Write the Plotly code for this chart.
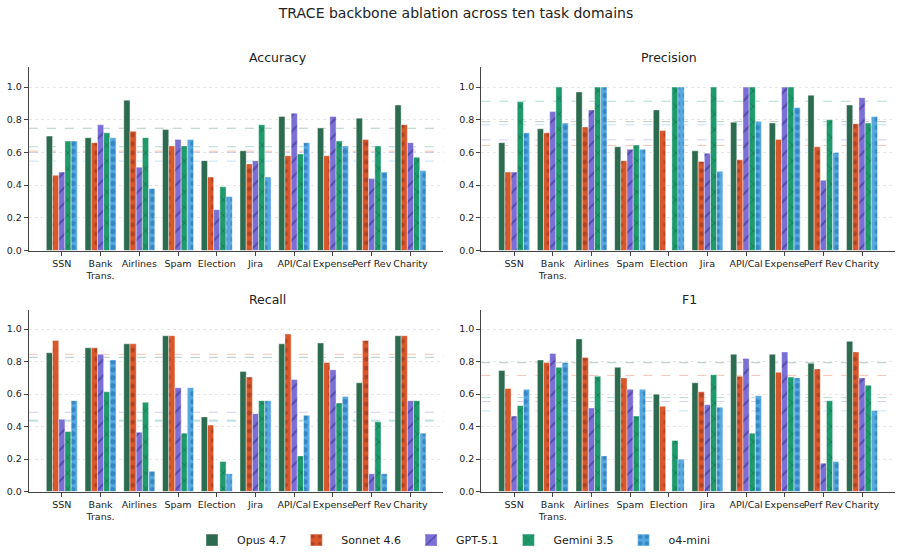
import plotly.graph_objects as go
from plotly.subplots import make_subplots

categories = ["SSN", "Bank<br>Trans.", "Airlines", "Spam", "Election", "Jira",
              "API/Cal", "Expense", "Perf Rev", "Charity"]
models = ["Opus 4.7", "Sonnet 4.6", "GPT-5.1", "Gemini 3.5", "o4-mini"]

accuracy = {
    "Opus 4.7":   [0.70, 0.69, 0.92, 0.74, 0.55, 0.61, 0.82, 0.75, 0.81, 0.89],
    "Sonnet 4.6": [0.46, 0.66, 0.73, 0.64, 0.45, 0.53, 0.58, 0.58, 0.68, 0.77],
    "GPT-5.1":    [0.48, 0.77, 0.51, 0.68, 0.25, 0.55, 0.84, 0.82, 0.44, 0.66],
    "Gemini 3.5": [0.67, 0.72, 0.69, 0.64, 0.39, 0.77, 0.59, 0.67, 0.64, 0.57],
    "o4-mini":    [0.67, 0.69, 0.38, 0.68, 0.33, 0.45, 0.66, 0.64, 0.48, 0.49],
}
precision = {
    "Opus 4.7":   [0.66, 0.745, 0.97, 0.635, 0.86, 0.61, 0.785, 0.78, 0.95, 0.89],
    "Sonnet 4.6": [0.48, 0.72, 0.755, 0.55, 0.735, 0.545, 0.555, 0.68, 0.635, 0.775],
    "GPT-5.1":    [0.48, 0.85, 0.86, 0.62, 0.0, 0.595, 1.0, 1.0, 0.43, 0.935],
    "Gemini 3.5": [0.91, 1.0, 1.0, 0.645, 1.0, 1.0, 1.0, 1.0, 0.80, 0.78],
    "o4-mini":    [0.72, 0.78, 1.0, 0.62, 1.0, 0.485, 0.79, 0.875, 0.60, 0.82],
}
recall = {
    "Opus 4.7":   [0.855, 0.885, 0.91, 0.96, 0.46, 0.74, 0.91, 0.915, 0.67, 0.96],
    "Sonnet 4.6": [0.93, 0.885, 0.91, 0.96, 0.41, 0.705, 0.97, 0.795, 0.93, 0.96],
    "GPT-5.1":    [0.445, 0.845, 0.365, 0.64, 0.0, 0.48, 0.69, 0.75, 0.11, 0.56],
    "Gemini 3.5": [0.37, 0.615, 0.55, 0.36, 0.185, 0.56, 0.22, 0.545, 0.43, 0.56],
    "o4-mini":    [0.56, 0.81, 0.125, 0.64, 0.11, 0.56, 0.47, 0.585, 0.11, 0.36],
}
f1 = {
    "Opus 4.7":   [0.745, 0.81, 0.94, 0.765, 0.60, 0.67, 0.845, 0.845, 0.79, 0.925],
    "Sonnet 4.6": [0.635, 0.795, 0.825, 0.70, 0.525, 0.615, 0.71, 0.735, 0.755, 0.86],
    "GPT-5.1":    [0.465, 0.85, 0.515, 0.63, 0.0, 0.535, 0.82, 0.86, 0.175, 0.70],
    "Gemini 3.5": [0.53, 0.765, 0.71, 0.465, 0.315, 0.72, 0.36, 0.705, 0.56, 0.655],
    "o4-mini":    [0.63, 0.795, 0.22, 0.63, 0.20, 0.52, 0.59, 0.70, 0.185, 0.50],
}
metrics = [("Accuracy", accuracy), ("Precision", precision), ("Recall", recall), ("F1", f1)]

colors = {"Opus 4.7": "#2c6b4f", "Sonnet 4.6": "#d9572b", "GPT-5.1": "#7b6fd6",
          "Gemini 3.5": "#1f9a6d", "o4-mini": "#57a9e0"}
hatch_colors = {"Opus 4.7": "#2c6b4f", "Sonnet 4.6": "#8a2e14", "GPT-5.1": "#2f267a",
                "Gemini 3.5": "#0d5a3d", "o4-mini": "#1463a8"}
patterns = {"Opus 4.7": "", "Sonnet 4.6": ".", "GPT-5.1": "/", "Gemini 3.5": "x", "o4-mini": "."}
pattern_size = {"Opus 4.7": 8, "Sonnet 4.6": 9, "GPT-5.1": 11, "Gemini 3.5": 11, "o4-mini": 8}
pattern_solid = {"Opus 4.7": 0.2, "Sonnet 4.6": 0.22, "GPT-5.1": 0.18, "Gemini 3.5": 0.16, "o4-mini": 0.35}
mean_rgba = {"Opus 4.7": "rgba(44,107,79,0.35)", "Sonnet 4.6": "rgba(217,87,43,0.35)",
             "GPT-5.1": "rgba(123,111,214,0.35)", "Gemini 3.5": "rgba(31,154,109,0.35)",
             "o4-mini": "rgba(87,169,224,0.35)"}

fig = make_subplots(rows=2, cols=2)
xs = list(range(len(categories)))

for idx, (mname, data) in enumerate(metrics):
    r, c = idx // 2 + 1, idx % 2 + 1
    for m in models:
        fig.add_trace(go.Bar(
            x=xs, y=data[m], name=m, legendgroup=m, showlegend=(idx == 0),
            marker=dict(color=colors[m], line=dict(color="rgba(255,255,255,0.7)", width=0.6),
                        pattern=dict(shape=patterns[m], fgcolor=hatch_colors[m],
                                     size=pattern_size[m], solidity=pattern_solid[m])),
        ), row=r, col=c)
    axn = "" if idx == 0 else str(idx + 1)
    for m in models:
        mean_val = sum(data[m]) / len(data[m])
        fig.add_shape(type="line", xref=f"x{axn} domain", yref=f"y{axn}",
                      x0=0, x1=1, y0=mean_val, y1=mean_val,
                      line=dict(color=mean_rgba[m], width=1, dash="dash"), layer="below")

xdom = [[0.032, 0.491], [0.533, 0.991]]
ydom = [[0.547, 0.878], [0.111, 0.440]]
tpos_y = [1 - 58 / 558, 1 - 302 / 558]
for idx, (mname, data) in enumerate(metrics):
    r, c = idx // 2, idx % 2
    axn = "" if idx == 0 else str(idx + 1)
    fig.layout["xaxis" + axn].update(domain=xdom[c])
    fig.layout["yaxis" + axn].update(domain=ydom[r])
    fig.add_annotation(text=mname, x=(xdom[c][0] + xdom[c][1]) / 2 + 0.012, y=tpos_y[r],
                       xref="paper", yref="paper", showarrow=False,
                       font=dict(size=12.5, color="#222"), yanchor="middle")

fig.update_xaxes(tickmode="array", tickvals=xs, ticktext=categories, range=[-0.85, 9.85],
                 tickangle=0,
                 showline=True, linecolor="#444", linewidth=1.2, ticks="outside", ticklen=4,
                 tickcolor="#444", tickfont=dict(size=9.5, color="#222"), showgrid=False,
                 zeroline=False)
fig.update_yaxes(range=[0, 1.12], tickvals=[0, 0.2, 0.4, 0.6, 0.8, 1.0], tickformat=".1f",
                 showline=True, linecolor="#444", linewidth=1.2, ticks="outside", ticklen=4,
                 tickcolor="#444", tickfont=dict(size=9.5, color="#222"), showgrid=True,
                 gridcolor="rgba(200,200,200,0.45)", griddash="dot", gridwidth=0.8, zeroline=False)

fig.update_layout(
    width=903, height=558, margin=dict(l=0, r=0, t=0, b=0),
    paper_bgcolor="white", plot_bgcolor="white",
    barmode="group", bargap=0.2, bargroupgap=0.0,
    font=dict(family="DejaVu Sans", color="#222"),
    title=dict(text="TRACE backbone ablation across ten task domains", x=0.505, xanchor="center",
               y=1 - 13 / 558, yanchor="middle", font=dict(size=14, color="#222")),
    legend=dict(orientation="h", x=0.5, xanchor="center", y=1 - 545 / 558, yanchor="middle",
                font=dict(size=11), itemwidth=40, traceorder="normal"),
)

fig.write_html("out.html")
